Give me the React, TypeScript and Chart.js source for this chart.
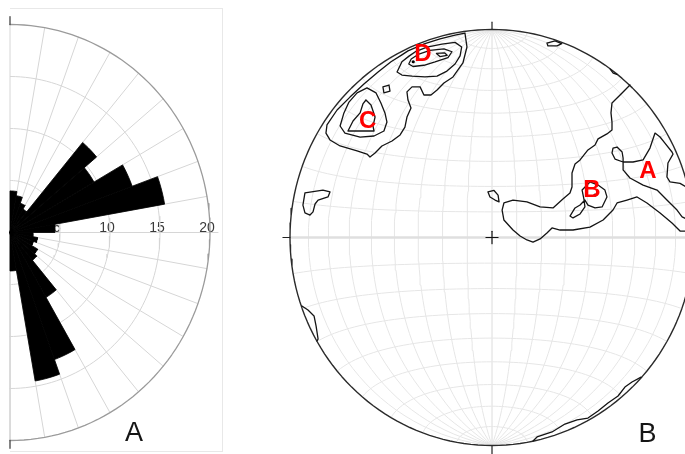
import React, { useEffect, useRef } from "react";
import { Chart, registerables } from "chart.js";

Chart.register(...registerables);

// ================= Panel A : rose diagram (10° bins, azimuth 0–180°) =================
const roseBinStart = [0, 10, 20, 30, 40, 50, 60, 70, 80, 90, 100, 110, 120, 130, 140, 150, 160, 170];
const roseCounts = [4.0, 3.6, 3.0, 2.6, 11.3, 9.7, 13.0, 15.7, 4.5, 2.3, 2.8, 2.5, 3.2, 3.5, 7.2, 13.0, 14.5, 3.7];
const roseBinWidth = 10;
const roseRings = [5, 10, 15, 20];
const roseTickLabels = ["5", "10", "15", "20"];
const roseSpokes = [0, 10, 20, 30, 40, 50, 60, 70, 80, 90, 100, 110, 120, 130, 140, 150, 160, 170, 180];
const panelLabelA = { text: "A", x: 12.4, y: -19.33 };

// ================= Panel B : equal-area net with density contours =================
const netLongitudes = [-80, -70, -60, -50, -40, -30, -20, -10, 10, 20, 30, 40, 50, 60, 70, 80];
const netLatitudes = [-80, -70, -60, -50, -40, -30, -20, -10, 10, 20, 30, 40, 50, 60, 70, 80];

// contour vertices in net coordinates (unit primitive circle, x east, y north)
const contourCD1 = [
  [-0.134, 0.983], [-0.124, 0.916], [-0.144, 0.839], [-0.193, 0.772], [-0.238, 0.743], [-0.272, 0.709],
  [-0.302, 0.685], [-0.337, 0.685], [-0.356, 0.724], [-0.396, 0.724], [-0.421, 0.7], [-0.416, 0.661],
  [-0.401, 0.623], [-0.421, 0.579], [-0.431, 0.531], [-0.455, 0.493], [-0.495, 0.464], [-0.545, 0.44],
  [-0.579, 0.406], [-0.604, 0.387], [-0.619, 0.401], [-0.668, 0.416], [-0.752, 0.44], [-0.802, 0.469],
  [-0.822, 0.502], [-0.817, 0.541], [-0.767, 0.613], [-0.703, 0.675], [-0.634, 0.738], [-0.564, 0.796],
  [-0.5, 0.845], [-0.446, 0.878], [-0.416, 0.897], [-0.332, 0.932], [-0.257, 0.955], [-0.183, 0.973],
];
const contourC2 = [
  [-0.619, 0.719], [-0.574, 0.695], [-0.55, 0.647], [-0.53, 0.599], [-0.52, 0.555], [-0.535, 0.512],
  [-0.584, 0.488], [-0.653, 0.483], [-0.728, 0.502], [-0.752, 0.536], [-0.733, 0.599], [-0.708, 0.651],
  [-0.668, 0.695],
];
const contourC3 = [
  [-0.624, 0.661], [-0.599, 0.637], [-0.579, 0.579], [-0.589, 0.536], [-0.584, 0.512], [-0.713, 0.512],
  [-0.688, 0.56], [-0.653, 0.599], [-0.639, 0.642],
];
const contourCsmall = [[-0.54, 0.724], [-0.51, 0.733], [-0.505, 0.704], [-0.535, 0.695]];
const contourD2 = [
  [-0.47, 0.796], [-0.446, 0.845], [-0.411, 0.872], [-0.376, 0.895], [-0.322, 0.915], [-0.248, 0.93],
  [-0.183, 0.938], [-0.15, 0.916], [-0.158, 0.873], [-0.183, 0.834], [-0.223, 0.8], [-0.272, 0.776],
  [-0.332, 0.772], [-0.396, 0.776], [-0.446, 0.781],
];
const contourD3 = [
  [-0.412, 0.834], [-0.4, 0.858], [-0.362, 0.882], [-0.307, 0.9], [-0.238, 0.907], [-0.198, 0.893],
  [-0.218, 0.865], [-0.282, 0.844], [-0.337, 0.828], [-0.391, 0.822],
];
const contourD4 = [[-0.275, 0.885], [-0.235, 0.888], [-0.222, 0.876], [-0.258, 0.87]];
const contourAB = [
  [0.683, 0.733], [0.639, 0.69], [0.594, 0.647], [0.589, 0.599], [0.594, 0.555], [0.594, 0.517],
  [0.569, 0.498], [0.525, 0.474], [0.51, 0.445], [0.475, 0.421], [0.436, 0.373], [0.411, 0.353],
  [0.396, 0.31], [0.396, 0.243], [0.386, 0.214], [0.351, 0.185], [0.302, 0.142], [0.238, 0.147],
  [0.173, 0.171], [0.104, 0.18], [0.059, 0.166], [0.05, 0.132], [0.059, 0.084], [0.104, 0.036],
  [0.139, 0.007], [0.173, -0.012], [0.203, -0.022], [0.238, -0.007], [0.272, 0.022], [0.297, 0.046],
  [0.337, 0.036], [0.401, 0.036], [0.485, 0.05], [0.55, 0.084], [0.599, 0.132], [0.619, 0.166],
  [0.668, 0.18], [0.718, 0.195], [0.767, 0.166], [0.832, 0.118], [0.891, 0.07], [0.931, 0.031], [0.998, 0.03],
];
const contourA = [
  [0.97, 0.238], [0.931, 0.26], [0.881, 0.267], [0.866, 0.291], [0.871, 0.358], [0.896, 0.401],
  [0.891, 0.411], [0.856, 0.454], [0.832, 0.483], [0.807, 0.502], [0.782, 0.43], [0.748, 0.373],
  [0.698, 0.363], [0.649, 0.363], [0.609, 0.377], [0.594, 0.406], [0.599, 0.43], [0.619, 0.435],
  [0.644, 0.411], [0.649, 0.382], [0.649, 0.325], [0.683, 0.286], [0.748, 0.252], [0.817, 0.228],
  [0.866, 0.18], [0.916, 0.132], [0.941, 0.099], [0.995, 0.075],
];
const contourB = [
  [0.446, 0.228], [0.485, 0.267], [0.525, 0.252], [0.559, 0.228], [0.569, 0.195], [0.545, 0.147],
  [0.51, 0.142], [0.475, 0.156], [0.46, 0.18], [0.436, 0.156], [0.411, 0.142], [0.386, 0.103],
  [0.401, 0.094], [0.436, 0.113], [0.46, 0.147], [0.455, 0.185],
];
const contourBsmall = [[-0.02, 0.219], [0.01, 0.226], [0.03, 0.204], [0.035, 0.171], [0.015, 0.18], [-0.01, 0.195]];
const contourNE = [[0.272, 0.935], [0.312, 0.945], [0.345, 0.932], [0.322, 0.921], [0.277, 0.921]];
const contourNEedge = [[0.585, 0.809], [0.6, 0.79], [0.618, 0.784]];
const contourW = [
  [-0.926, 0.214], [-0.837, 0.228], [-0.802, 0.219], [-0.812, 0.195], [-0.861, 0.18], [-0.876, 0.161],
  [-0.886, 0.123], [-0.901, 0.108], [-0.926, 0.118], [-0.936, 0.156],
];
const contourSW = [[-0.941, -0.329], [-0.911, -0.349], [-0.881, -0.377], [-0.871, -0.425], [-0.861, -0.488], [-0.866, -0.498]];
const contourSE = [
  [0.203, -0.978], [0.223, -0.959], [0.297, -0.935], [0.361, -0.897], [0.421, -0.877], [0.475, -0.868],
  [0.525, -0.834], [0.574, -0.796], [0.624, -0.762], [0.658, -0.719], [0.693, -0.695], [0.738, -0.671],
];
const contourList = [
  { pts: contourCD1, closed: true }, { pts: contourC2, closed: true }, { pts: contourC3, closed: true },
  { pts: contourCsmall, closed: true }, { pts: contourD2, closed: true }, { pts: contourD3, closed: true },
  { pts: contourD4, closed: true }, { pts: contourAB, closed: false }, { pts: contourA, closed: false },
  { pts: contourB, closed: true }, { pts: contourBsmall, closed: true }, { pts: contourNE, closed: true },
  { pts: contourNEedge, closed: false }, { pts: contourW, closed: true }, { pts: contourSW, closed: false },
  { pts: contourSE, closed: false },
];
const peakDots = [[-0.39, 0.845], [0.51, 0.204]];
const peakNames = ["A", "B", "C", "D"];
const peakX = [0.772, 0.495, -0.616, -0.342];
const peakY = [0.318, 0.226, 0.56, 0.88];
const panelLabelB = { text: "B", x: 0.77, y: -0.945 };

const D2R = Math.PI / 180;

function netXY(lon: number, lat: number) {
  const l = lon * D2R;
  const p = lat * D2R;
  const cx = Math.cos(p) * Math.sin(l);
  const cy = Math.sin(p);
  const cz = Math.cos(p) * Math.cos(l);
  const k = 1 / Math.sqrt(1 + cz);
  return { x: cx * k, y: cy * k };
}

function steps(a: number, b: number, s: number) {
  const out: number[] = [];
  for (let v = a; v <= b + 1e-9; v += s) out.push(v);
  return out;
}

function seg(points: any[], xid: string, yid: string, color: string, width: number, order: number, extra: any = {}) {
  return {
    data: points,
    xAxisID: xid,
    yAxisID: yid,
    borderColor: color,
    borderWidth: width,
    pointRadius: 0,
    pointHoverRadius: 0,
    fill: false,
    tension: 0,
    order,
    borderJoinStyle: "round",
    borderCapStyle: "round",
    ...extra,
  };
}

function buildDatasets() {
  const ds: any[] = [];
  // ---- rose grid ----
  roseRings.forEach((r, i) => {
    const last = i === roseRings.length - 1;
    const pts = steps(0, 180, 2).map((a) => ({ x: r * Math.sin(a * D2R), y: r * Math.cos(a * D2R) }));
    ds.push(seg(pts, "xR", "yR", last ? "#9b9b9b" : "#d6d6d6", last ? 1.3 : 1, 20));
  });
  roseSpokes.forEach((a) => {
    const len = a === 90 ? 20.8 : 20;
    ds.push(seg([{ x: 0, y: 0 }, { x: len * Math.sin(a * D2R), y: len * Math.cos(a * D2R) }], "xR", "yR", "#d6d6d6", 1, 21));
  });
  ds.push(seg([{ x: 0, y: 20 }, { x: 0, y: 20.75 }], "xR", "yR", "#444", 1.3, 19));
  ds.push(seg([{ x: 0, y: -20 }, { x: 0, y: -20.75 }], "xR", "yR", "#444", 1.3, 19));
  // ---- rose wedges ----
  roseBinStart.forEach((a0, i) => {
    const c = roseCounts[i];
    const pts: any[] = [{ x: 0, y: 0 }];
    for (let k = 0; k <= 5; k++) {
      const a = (a0 + (k * roseBinWidth) / 5) * D2R;
      pts.push({ x: c * Math.sin(a), y: c * Math.cos(a) });
    }
    pts.push({ x: 0, y: 0 });
    ds.push(seg(pts, "xR", "yR", "#000", 0.8, 10, { fill: "shape", backgroundColor: "#000" }));
  });

  // ---- stereonet grid ----
  netLongitudes.forEach((lon) => {
    ds.push(seg(steps(-90, 90, 3).map((lat) => netXY(lon, lat)), "xS", "yS", "#e6e6e6", 1, 30));
  });
  netLatitudes.forEach((lat) => {
    ds.push(seg(steps(-90, 90, 3).map((lon) => netXY(lon, lat)), "xS", "yS", "#e6e6e6", 1, 30));
  });
  ds.push(seg(steps(-90, 90, 3).map((lat) => netXY(0, lat)), "xS", "yS", "#e8e8e8", 1.5, 29));
  ds.push(seg(steps(-90, 90, 3).map((lon) => netXY(lon, 0)), "xS", "yS", "#dfdfdf", 2.4, 29));
  // primitive
  ds.push(seg(steps(0, 360, 2).map((t) => ({ x: Math.cos(t * D2R), y: Math.sin(t * D2R) })), "xS", "yS", "#2a2a2a", 1.4, 3));
  // ticks and centre cross
  ds.push(seg([{ x: 0, y: 1 }, { x: 0, y: 1.035 }], "xS", "yS", "#222", 1.2, 3));
  ds.push(seg([{ x: 0, y: -1 }, { x: 0, y: -1.045 }], "xS", "yS", "#222", 1.2, 3));
  ds.push(seg([{ x: -1, y: 0 }, { x: -1.035, y: 0 }], "xS", "yS", "#222", 1.2, 3));
  ds.push(seg([{ x: -0.03, y: 0 }, { x: 0.03, y: 0 }], "xS", "yS", "#111", 1.2, 3));
  ds.push(seg([{ x: 0, y: -0.03 }, { x: 0, y: 0.03 }], "xS", "yS", "#111", 1.2, 3));
  // contours
  contourList.forEach((c) => {
    const pts = c.pts.map(([x, y]) => ({ x, y }));
    if (c.closed) pts.push({ ...pts[0] });
    ds.push(seg(pts, "xS", "yS", "#141414", 1.3, 2));
  });
  ds.push({
    data: peakDots.map(([x, y]) => ({ x, y })),
    xAxisID: "xS",
    yAxisID: "yS",
    showLine: false,
    pointRadius: 1.6,
    pointHoverRadius: 1.6,
    pointBorderWidth: 0,
    pointBackgroundColor: "#000",
    borderColor: "#000",
    order: 1,
  });
  return ds;
}

const labelPlugin = {
  id: "panelLabels",
  beforeDatasetsDraw(chart: any) {
    const { ctx } = chart;
    const xR = chart.scales.xR;
    const yR = chart.scales.yR;
    ctx.save();
    ctx.font = '14px "Liberation Sans", Arial, sans-serif';
    ctx.fillStyle = "#3a3a3a";
    ctx.textAlign = "center";
    ctx.textBaseline = "alphabetic";
    const base = yR.getPixelForValue(0) - 0.5;
    roseRings.forEach((r, i) => ctx.fillText(roseTickLabels[i], xR.getPixelForValue(r) - 3, base));
    ctx.restore();
  },
  afterDatasetsDraw(chart: any) {
    const { ctx } = chart;
    const { xR, yR, xS, yS } = chart.scales;
    ctx.save();
    ctx.textAlign = "center";
    ctx.textBaseline = "middle";
    ctx.font = 'bold 24px "Liberation Sans", Arial, sans-serif';
    ctx.fillStyle = "#ff0000";
    peakNames.forEach((n, i) => ctx.fillText(n, xS.getPixelForValue(peakX[i]), yS.getPixelForValue(peakY[i])));
    ctx.font = '27px "Liberation Sans", Arial, sans-serif';
    ctx.fillStyle = "#151515";
    ctx.fillText(panelLabelA.text, xR.getPixelForValue(panelLabelA.x), yR.getPixelForValue(panelLabelA.y));
    ctx.fillText(panelLabelB.text, xS.getPixelForValue(panelLabelB.x), yS.getPixelForValue(panelLabelB.y));
    ctx.restore();
  },
};

export default function App() {
  const ref = useRef<HTMLCanvasElement | null>(null);
  useEffect(() => {
    if (!ref.current) return;
    const chart = new Chart(ref.current, {
      type: "line",
      data: { datasets: buildDatasets() },
      options: {
        animation: false,
        responsive: false,
        devicePixelRatio: 1,
        events: [],
        layout: { padding: 0, autoPadding: false },
        plugins: { legend: { display: false }, tooltip: { enabled: false }, title: { display: false } },
        elements: { point: { radius: 0, hoverRadius: 0 }, line: { tension: 0 } },
        scales: {
          xR: { type: "linear", axis: "x", display: false, bounds: "data", min: -1, max: 67.5 },
          yR: { type: "linear", axis: "y", display: false, bounds: "data", min: -21.298, max: 22.356 },
          xS: { type: "linear", axis: "x", display: false, bounds: "data", min: -2.4356, max: 0.9554 },
          yS: { type: "linear", axis: "y", display: false, bounds: "data", min: -1.0409, max: 1.1418 },
        },
      } as any,
      plugins: [labelPlugin],
    });
    return () => chart.destroy();
  }, []);
  return (
    <div style={{ position: "absolute", left: 0, top: 0, width: 685, height: 454, background: "#fff", overflow: "hidden" }}>
      <div
        style={{
          position: "absolute",
          left: 10,
          top: 8,
          width: 212,
          height: 442,
          borderTop: "1px solid #e8e8e8",
          borderRight: "1px solid #e8e8e8",
          borderBottom: "1px solid #e8e8e8",
        }}
      />
      <canvas ref={ref} width={685} height={454} style={{ position: "absolute", left: 0, top: 0, width: 685, height: 454 }} />
    </div>
  );
}
